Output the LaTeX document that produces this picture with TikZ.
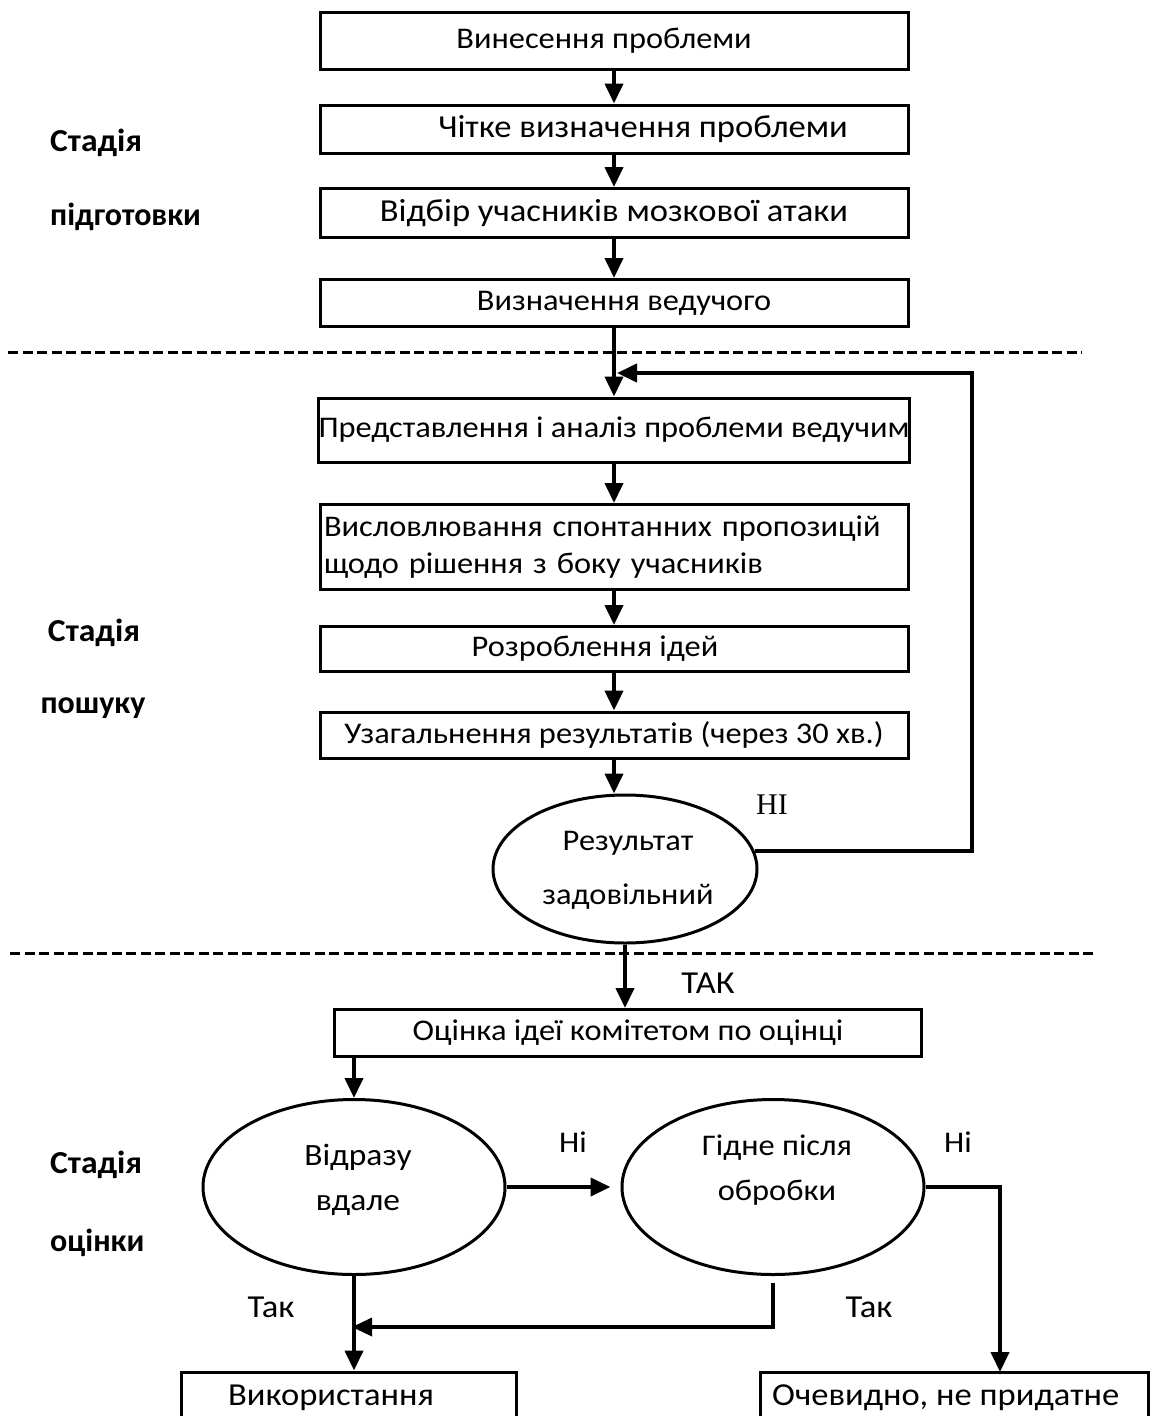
\documentclass[tikz,border=0pt]{standalone}
\usepackage{fontspec}
\usepackage{graphicx}
\setmainfont[FakeStretch=1.08]{Carlito}
\newfontfamily\labf{Carlito}
\newfontfamily\timesf{Liberation Serif}
\usetikzlibrary{arrows.meta,shapes.geometric,calc}
\newcommand{\hsc}[2]{\scalebox{#1}[1]{#2}}
\begin{document}
\begin{tikzpicture}[x=1pt,y=-1pt,
  box/.style={draw,line width=3pt,inner sep=0pt,minimum width=588pt,font=\fontsize{30}{37}\selectfont},
  txt/.style={font=\fontsize{30}{37}\selectfont,inner sep=0pt},
  bigtxt/.style={font=\fontsize{32}{38}\selectfont,inner sep=0pt},
  ell/.style={draw,ellipse,line width=3pt,inner sep=0pt},
  arr/.style={line width=4pt,-{Triangle[length=20pt,width=18pt]}},
  sepline/.style={line width=3pt,dash pattern=on 10pt off 4.5pt},
  stage/.style={font=\labf\bfseries\fontsize{32}{38}\selectfont,inner sep=0pt}]
\useasboundingbox (0,0) rectangle (1152,1416);
\clip (0,0) rectangle (1152,1416);

% stage labels
\node[stage,anchor=west] (s1) at (50,143) {\hsc{1.05}{Стадія}};
\node[stage,anchor=west] (s1b) at (50,217) {підготовки};
\node[stage] (s2) at (94,633) {\hsc{1.05}{Стадія}};
\node[stage] (s2b) at (93,708) {пошуку};
\node[stage,anchor=west] (s3) at (50,1165) {\hsc{1.05}{Стадія}};
\node[stage,anchor=west] (s3b) at (50,1243) {оцінки};

% boxes
\node[box,minimum height=57pt] (b1) at (614,41) {Винесення проблеми\hspace*{20pt}};
\node[box,minimum height=48pt,font=\fontsize{32}{38}\selectfont] (b2) at (614,129) {\hspace*{58pt}Чітке визначення проблеми};
\node[box,minimum height=49pt,font=\fontsize{32}{38}\selectfont] (b3) at (614,213) {Відбір учасників мозкової атаки};
\node[box,minimum height=47pt] (b4) at (614,303) {\hspace*{20pt}Визначення ведучого};
\node[box,minimum height=64pt] (b5) at (614,430) {Представлення і аналіз проблеми ведучим};
\node[box,minimum height=85pt,text width=580pt,align=left] (b6) at (614,547) {\mbox{Висловлювання спонтанних пропозицій}\\\mbox{щодо рішення з боку учасників}};
\node[box,minimum height=45pt] (b7) at (614,649) {Розроблення ідей\hspace*{38pt}};
\node[box,minimum height=46pt] (b8) at (614,735) {Узагальнення результатів (через 30 хв.)};
\node[ell,minimum width=264pt,minimum height=148pt] (res) at (625,869) {};
\node[txt,align=center,font=\fontsize{30}{54}\selectfont] (restxt) at (628,870) {Результат\\задовільний};
\node[box,minimum width=587pt,minimum height=47pt] (b9) at (628,1033) {Оцінка ідеї комітетом по оцінці};
\node[ell,minimum width=302pt,minimum height=175pt] (A) at (354,1187) {};
\node[txt,align=center,font=\fontsize{31}{45}\selectfont] (Atxt) at (358,1180) {Відразу\\вдале};
\node[ell,minimum width=302pt,minimum height=175pt] (B) at (773,1187) {};
\node[txt,align=center,font=\fontsize{30}{45}\selectfont] (Btxt) at (777,1170) {Гідне після\\обробки};
\node[draw,line width=3pt,minimum width=335pt,minimum height=80pt] (use) at (348.5,1412) {};
\node[bigtxt] (usetxt) at (331,1398) {Використання};
\node[draw,line width=3pt,minimum width=388pt,minimum height=80pt] (ob) at (954,1412) {};
\node[bigtxt,anchor=west] (obtxt) at (772,1398) {Очевидно, не придатне};

% labels
\node[font=\timesf\fontsize{30}{36}\selectfont,inner sep=0pt] (lno) at (772,805) {НІ};
\node[bigtxt] (lyes) at (708,983) {ТАК};
\node[txt] (lno2) at (573,1142) {Ні};
\node[txt] (lno3) at (958,1142) {Ні};
\node[bigtxt] (lyes2) at (271,1307) {Так};
\node[bigtxt] (lyes3) at (869,1307) {Так};

% separators
\draw[sepline] (8,352) -- (1082,352);
\draw[sepline] (10,953) -- (1095,953);

% connectors
\draw[arr] (b1) -- (b2);
\draw[arr] (b2) -- (b3);
\draw[arr] (b3) -- (b4);
\draw[arr] (b4) -- (b5);
\draw[arr] (b5) -- (b6);
\draw[arr] (b6) -- (b7);
\draw[arr] (b7) -- (b8);
\draw[arr] (b8.south) -- (b8.south |- res.north);
\coordinate (loopR) at (972,373);
\coordinate (loopend) at (617,373);
\draw[arr] (res.8) -| (loopR) -- (loopend);
\draw[arr] (res.south) -- (res.south |- b9.north);
\draw[arr] (b9.south -| A.north) -- (A.north);
\draw[arr,shorten >=10pt] (A.east) -- (B.west);
\coordinate (obin) at (1000,1372);
\draw[arr] (B.east) -| (obin);
\coordinate (join) at (352,1327);
\draw[arr,line width=3.5pt] ($(B.south)+(0,7)$) |- (join);
\draw[arr] (A.south) -- (A.south |- use.north);
\end{tikzpicture}
\end{document}
